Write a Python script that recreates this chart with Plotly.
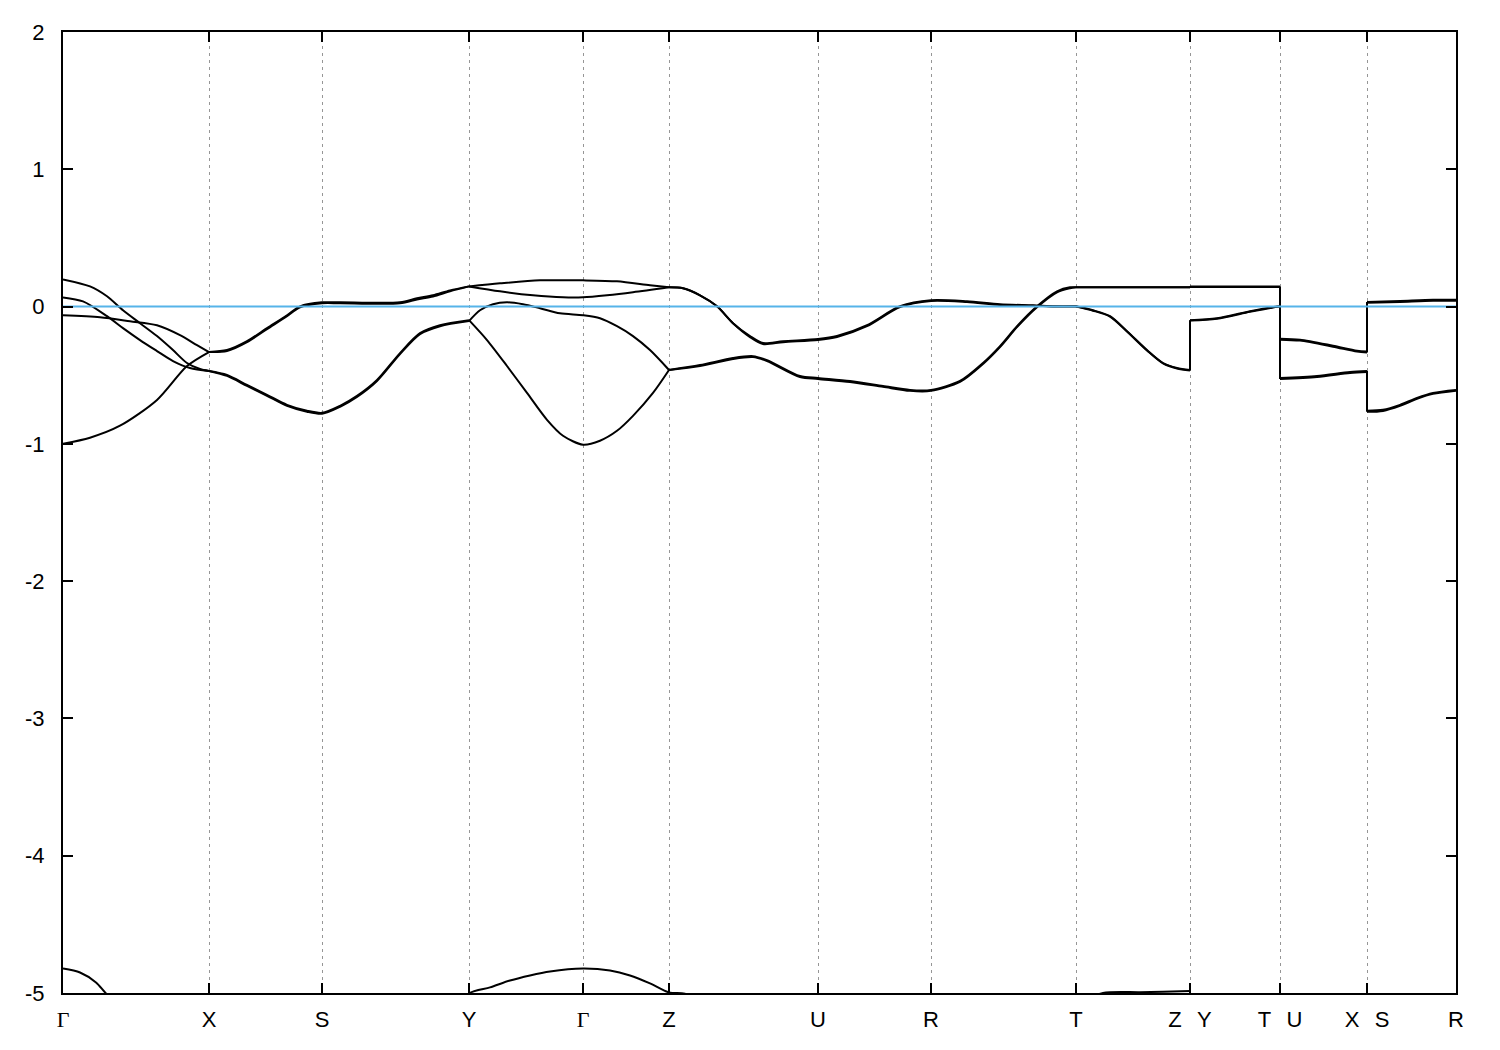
import plotly.graph_objects as go

# High-symmetry points along the k-path
tick_k = [0.0, 0.146, 0.259, 0.406, 0.520, 0.606, 0.755, 0.868, 1.013, 1.127, 1.217, 1.304, 1.393]
G = '<span style="font-family:\'Liberation Serif\'">Γ</span>'
tick_labels = [G, "X", "S", "Y", G, "Z", "U", "R", "T",
               "Z\u2002\u2009Y", "T\u2002\u2009U", "X\u2002\u2009S", "R"]
# points where bands have kinks (curves are split there for smoothing)
kink_k = [0.146, 0.406, 0.606, 1.013, 1.127, 1.217, 1.304]

y_ticks = [-5, -4, -3, -2, -1, 0, 1, 2]
y_labels = ["-5", "-4", "-3", "-2", "-1", "0", "1", "2"]

# Band P
bandP_k = [0.0, 0.027, 0.044, 0.060, 0.077, 0.094, 0.110, 0.124, 0.137, 0.146,
           0.164, 0.184, 0.204, 0.224, 0.244, 0.259,
           0.277, 0.294, 0.314, 0.337, 0.357, 0.377, 0.406,
           0.424, 0.444, 0.464, 0.484, 0.500, 0.520,
           0.537, 0.554, 0.570, 0.590, 0.606,
           0.637, 0.670, 0.690, 0.704, 0.737, 0.755,
           0.787, 0.820, 0.847, 0.868,
           0.897, 0.920, 0.937, 0.954, 0.974, 0.994, 1.007, 1.013,
           1.070, 1.127,
           1.127, 1.170, 1.217,
           1.217, 1.237, 1.270, 1.294, 1.304,
           1.304, 1.337, 1.370, 1.393]
bandP_E = [0.198, 0.147, 0.075, -0.027, -0.121, -0.215, -0.317, -0.411, -0.455, -0.469,
           -0.498, -0.571, -0.643, -0.716, -0.759, -0.774,
           -0.723, -0.651, -0.535, -0.339, -0.194, -0.136, -0.099,
           -0.244, -0.433, -0.629, -0.825, -0.941, -1.006,
           -0.977, -0.905, -0.796, -0.629, -0.462,
           -0.426, -0.375, -0.361, -0.390, -0.506, -0.520,
           -0.542, -0.578, -0.607, -0.607,
           -0.542, -0.411, -0.288, -0.143, 0.002, 0.111, 0.140, 0.140,
           0.140, 0.140,
           0.143, 0.143, 0.143,
           -0.234, -0.241, -0.285, -0.321, -0.328,
           0.034, 0.041, 0.049, 0.049]

# Band Q
bandQ_k = [0.0, 0.027, 0.057, 0.094, 0.124, 0.146,
           0.164, 0.184, 0.204, 0.224, 0.237, 0.259,
           0.277, 0.337, 0.354, 0.370, 0.387, 0.406,
           0.437, 0.477, 0.520,
           0.554, 0.587, 0.606,
           0.620, 0.637, 0.654, 0.670, 0.687, 0.700, 0.720, 0.755,
           0.774, 0.804, 0.837, 0.868,
           0.904, 0.937, 0.970, 0.992, 1.013,
           1.030, 1.047, 1.064, 1.084, 1.100, 1.114, 1.127,
           1.127, 1.154, 1.187, 1.209, 1.217,
           1.217, 1.254, 1.287, 1.304,
           1.304, 1.320, 1.337, 1.354, 1.370, 1.393]
bandQ_E = [-0.999, -0.955, -0.868, -0.680, -0.433, -0.331,
           -0.317, -0.252, -0.157, -0.063, 0.002, 0.031,
           0.031, 0.031, 0.060, 0.082, 0.118, 0.147,
           0.169, 0.191, 0.191,
           0.184, 0.155, 0.140,
           0.133, 0.082, 0.002, -0.121, -0.215, -0.266, -0.252, -0.237,
           -0.215, -0.136, 0.002, 0.046,
           0.038, 0.017, 0.009, 0.002, 0.002,
           -0.027, -0.070, -0.179, -0.317, -0.411, -0.448, -0.462,
           -0.099, -0.085, -0.034, -0.005, 0.002,
           -0.520, -0.506, -0.477, -0.469,
           -0.759, -0.752, -0.716, -0.665, -0.629, -0.607]

# Band R (starts at Γ 0.067, partner of P from X to Y)
bandR_k = [0.0, 0.020, 0.044, 0.060, 0.077, 0.094, 0.110, 0.127, 0.146,
           0.164, 0.184, 0.204, 0.224, 0.244, 0.259,
           0.277, 0.294, 0.314, 0.337, 0.357, 0.377, 0.406,
           0.417, 0.430, 0.444, 0.460, 0.477, 0.497, 0.520,
           0.537, 0.554, 0.570, 0.587, 0.606,
           0.637, 0.670, 0.690, 0.704, 0.737, 0.755,
           0.787, 0.820, 0.847, 0.868,
           0.897, 0.920, 0.937, 0.954, 0.974, 0.994, 1.007, 1.013,
           1.070, 1.127,
           1.127, 1.170, 1.217,
           1.217, 1.237, 1.270, 1.294, 1.304,
           1.304, 1.337, 1.370, 1.393]
bandR_E = [0.067, 0.038, -0.070, -0.157, -0.244, -0.324, -0.397, -0.448, -0.469,
           -0.505, -0.578, -0.650, -0.723, -0.766, -0.781,
           -0.730, -0.658, -0.542, -0.346, -0.201, -0.143, -0.106,
           -0.027, 0.017, 0.031, 0.017, -0.012, -0.049, -0.063,
           -0.085, -0.143, -0.215, -0.317, -0.462,
           -0.433, -0.382, -0.368, -0.397, -0.513, -0.527,
           -0.549, -0.585, -0.614, -0.614,
           -0.549, -0.418, -0.295, -0.150, -0.005, 0.104, 0.133, 0.140,
           0.140, 0.140,
           0.147, 0.147, 0.147,
           -0.241, -0.248, -0.292, -0.328, -0.335,
           0.027, 0.034, 0.042, 0.042]

# Band S (starts at Γ -0.063, partner of Q from X to Y)
bandS_k = [0.0, 0.037, 0.067, 0.094, 0.117, 0.134, 0.146,
           0.164, 0.184, 0.204, 0.224, 0.237, 0.259,
           0.277, 0.337, 0.354, 0.370, 0.387, 0.406,
           0.437, 0.470, 0.500, 0.520,
           0.544, 0.570, 0.606,
           0.620, 0.637, 0.654, 0.670, 0.687, 0.700, 0.720, 0.755,
           0.774, 0.804, 0.837, 0.868,
           0.904, 0.937, 0.970, 0.992, 1.013,
           1.030, 1.047, 1.064, 1.084, 1.100, 1.114, 1.127,
           1.127, 1.154, 1.187, 1.209, 1.217,
           1.217, 1.254, 1.287, 1.304,
           1.304, 1.320, 1.337, 1.354, 1.370, 1.393]
bandS_E = [-0.063, -0.078, -0.107, -0.136, -0.208, -0.281, -0.331,
           -0.324, -0.259, -0.164, -0.070, -0.005, 0.024,
           0.024, 0.024, 0.052, 0.074, 0.111, 0.147,
           0.111, 0.082, 0.067, 0.067,
           0.082, 0.104, 0.140,
           0.133, 0.082, 0.002, -0.121, -0.222, -0.273, -0.259, -0.244,
           -0.222, -0.143, -0.003, 0.041,
           0.033, 0.012, 0.006, 0.000, 0.000,
           -0.030, -0.073, -0.182, -0.320, -0.414, -0.451, -0.465,
           -0.102, -0.089, -0.038, -0.008, 0.000,
           -0.528, -0.513, -0.484, -0.476,
           -0.767, -0.760, -0.723, -0.672, -0.636, -0.613]

# Deep band near -5 (partly below the window)
band5_k = [0.0, 0.017, 0.033, 0.043, 0.060, None,
           0.380, 0.406, 0.427, 0.447, 0.467, 0.487, 0.520, 0.547, 0.567, 0.587, 0.606, 0.622, 0.650, None,
           1.013, 1.040, 1.077, 1.100, 1.127]
band5_E = [-4.822, -4.851, -4.923, -5.003, -5.120, None,
           -5.250, -5.003, -4.959, -4.909, -4.872, -4.843, -4.822, -4.836, -4.872, -4.930, -4.996, -5.005, -5.080, None,
           -5.080, -5.000, -4.994, -4.990, -4.986]

fermi_E = 0.0

fig = go.Figure()


def add_band(ks, Es):
    # split into smooth runs at kink points; jumps drawn as straight connectors
    runs = []
    jumps = []
    cur = [(ks[0], Es[0])]
    n = len(ks)
    i = 1
    while i < n:
        cur.append((ks[i], Es[i]))
        if ks[i] in kink_k and i < n - 1:
            runs.append(cur)
            if ks[i + 1] == ks[i]:
                jumps.append(((ks[i], Es[i]), (ks[i + 1], Es[i + 1])))
                cur = [(ks[i + 1], Es[i + 1])]
                i += 2
                continue
            cur = [(ks[i], Es[i])]
        i += 1
    if len(cur) > 1:
        runs.append(cur)
    xs, ys = [], []
    for r in runs:
        xs += [p[0] for p in r] + [None]
        ys += [p[1] for p in r] + [None]
    fig.add_trace(go.Scatter(x=xs, y=ys, mode="lines",
                             line=dict(color="black", width=2, shape="spline", smoothing=0.8),
                             showlegend=False, hoverinfo="skip"))
    if jumps:
        jx, jy = [], []
        for a, b in jumps:
            jx += [a[0], b[0], None]
            jy += [a[1], b[1], None]
        fig.add_trace(go.Scatter(x=jx, y=jy, mode="lines", line=dict(color="black", width=2),
                                 showlegend=False, hoverinfo="skip"))


for ks, Es in [(bandP_k, bandP_E), (bandQ_k, bandQ_E), (bandR_k, bandR_E), (bandS_k, bandS_E)]:
    add_band(ks, Es)

fig.add_trace(go.Scatter(x=band5_k, y=band5_E, mode="lines",
                         line=dict(color="black", width=2, shape="spline", smoothing=0.8),
                         showlegend=False, hoverinfo="skip"))

# Fermi level
fig.add_trace(go.Scatter(x=[tick_k[0], tick_k[-1]], y=[fermi_E, fermi_E], mode="lines",
                         line=dict(color="rgb(86,180,233)", width=2), showlegend=False, hoverinfo="skip"))

fig.update_layout(
    width=1500, height=1050,
    margin=dict(l=55, r=52, t=17, b=65),
    paper_bgcolor="white", plot_bgcolor="white",
    font=dict(family="Liberation Sans, Arial, sans-serif", size=22, color="black"),
    showlegend=False,
)
fig.update_xaxes(
    range=[tick_k[0], tick_k[-1]], tickmode="array", tickvals=tick_k, ticktext=tick_labels,
    ticks="inside", ticklen=10, tickwidth=2, tickcolor="black",
    showline=True, linecolor="black", linewidth=2, mirror="ticks",
    showgrid=True, gridcolor="rgb(150,150,150)", gridwidth=1, griddash="3px,4px",
    zeroline=False, ticklabelstandoff=6,
)
fig.update_yaxes(
    range=[-5, 2], tickmode="array", tickvals=y_ticks, ticktext=y_labels,
    ticks="inside", ticklen=10, tickwidth=2, tickcolor="black",
    showline=True, linecolor="black", linewidth=2, mirror="ticks",
    showgrid=False, zeroline=False, ticklabelstandoff=12,
)

fig.write_html("out.html")
